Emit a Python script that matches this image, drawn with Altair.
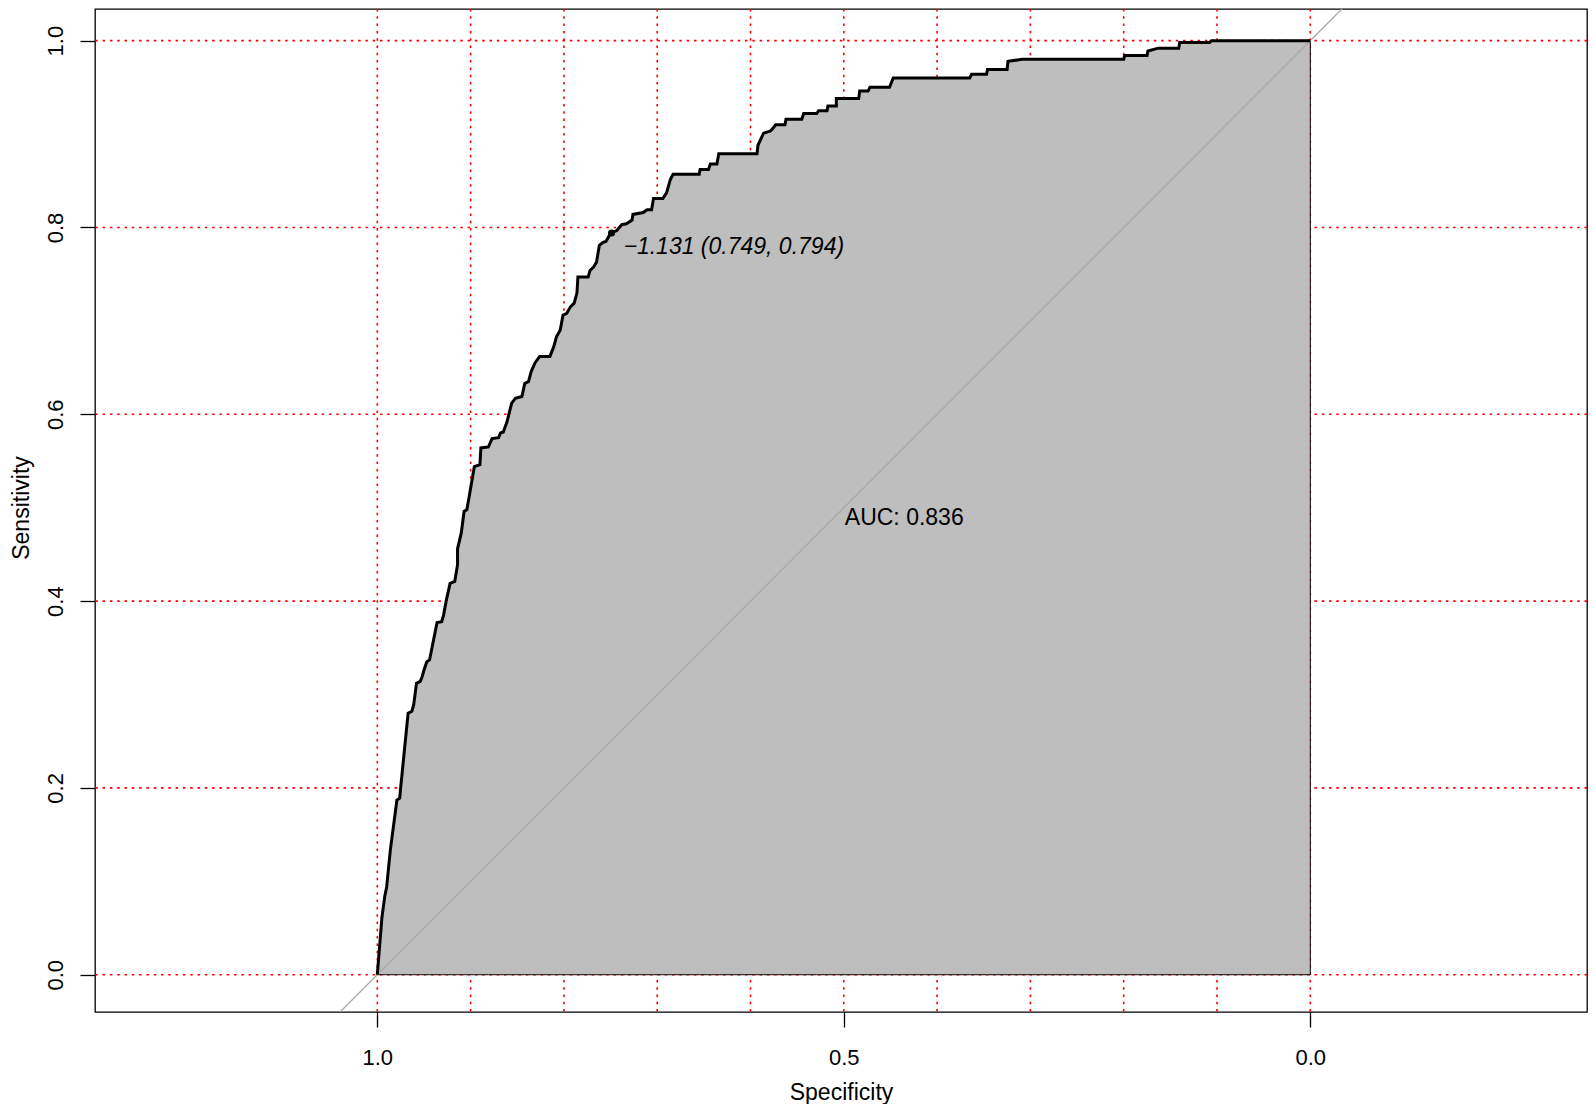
import altair as alt
import pandas as pd

# ROC curve vertices (specificity, sensitivity), from spec=1 to spec=0
spec = [1.000, 0.995, 0.992, 0.990, 0.986, 0.979, 0.976, 0.975, 0.967, 0.963,
        0.961, 0.958, 0.954, 0.952, 0.950, 0.947, 0.944, 0.936, 0.931, 0.929,
        0.926, 0.922, 0.917, 0.914, 0.914, 0.910, 0.907, 0.904, 0.901, 0.896,
        0.890, 0.889, 0.881, 0.877, 0.870, 0.868, 0.865, 0.861, 0.856, 0.852,
        0.845, 0.842, 0.838, 0.835, 0.831, 0.826, 0.815, 0.811, 0.808, 0.804,
        0.801, 0.797, 0.793, 0.789, 0.786, 0.785, 0.774, 0.772, 0.768, 0.765,
        0.762, 0.758, 0.755, 0.751, 0.749, 0.743, 0.738, 0.733, 0.727, 0.726,
        0.715, 0.711, 0.706, 0.704, 0.694, 0.690, 0.686, 0.683, 0.655, 0.654,
        0.645, 0.643, 0.636, 0.634, 0.593, 0.592, 0.586, 0.579, 0.577, 0.573,
        0.563, 0.562, 0.545, 0.543, 0.529, 0.527, 0.518, 0.517, 0.508, 0.508,
        0.484, 0.483, 0.474, 0.472, 0.451, 0.447, 0.365, 0.363, 0.347, 0.346,
        0.325, 0.324, 0.309, 0.200, 0.199, 0.175, 0.174, 0.163, 0.141, 0.140,
        0.108, 0.106, 0.000]
sens = [0.000, 0.062, 0.084, 0.094, 0.134, 0.187, 0.189, 0.200, 0.280, 0.282,
        0.289, 0.312, 0.314, 0.319, 0.326, 0.335, 0.337, 0.377, 0.378, 0.385,
        0.401, 0.419, 0.421, 0.439, 0.456, 0.473, 0.496, 0.498, 0.515, 0.544,
        0.546, 0.564, 0.565, 0.574, 0.575, 0.580, 0.581, 0.592, 0.612, 0.617,
        0.619, 0.633, 0.635, 0.646, 0.655, 0.662, 0.662, 0.672, 0.683, 0.690,
        0.706, 0.708, 0.715, 0.719, 0.730, 0.747, 0.747, 0.754, 0.758, 0.763,
        0.781, 0.784, 0.785, 0.792, 0.794, 0.797, 0.803, 0.804, 0.808, 0.814,
        0.816, 0.819, 0.819, 0.831, 0.831, 0.837, 0.851, 0.857, 0.857, 0.862,
        0.862, 0.868, 0.868, 0.879, 0.879, 0.888, 0.901, 0.903, 0.905, 0.910,
        0.910, 0.916, 0.916, 0.922, 0.922, 0.925, 0.925, 0.930, 0.930, 0.938,
        0.938, 0.946, 0.946, 0.950, 0.950, 0.960, 0.960, 0.964, 0.964, 0.969,
        0.969, 0.978, 0.980, 0.980, 0.984, 0.984, 0.989, 0.992, 0.992, 0.998,
        0.998, 1.000, 1.000]

grid_x = [0.0, 0.1, 0.2, 0.3, 0.4, 0.5, 0.6, 0.7, 0.8, 0.9, 1.0]
grid_y = [0.0, 0.2, 0.4, 0.6, 0.8, 1.0]
x_ticks = [1.0, 0.5, 0.0]
y_ticks = [0.0, 0.2, 0.4, 0.6, 0.8, 1.0]

diag_x = [1.05, -0.05]
diag_y = [-0.05, 1.05]

thres_val = [-1.131]
thres_spec = [0.749]
thres_sens = [0.794]

auc_val = [0.836]
auc_x = [0.5]
auc_y = [0.5]

FONT = "Liberation Sans"

curve = pd.DataFrame({"spec": spec, "sens": sens})
curve["i"] = range(len(curve))
curve["base"] = 0.0

x_scale = alt.Scale(domain=[-0.2966, 1.3026], reverse=True, nice=False, zero=False)
y_scale = alt.Scale(domain=[-0.0399, 1.0339], nice=False, zero=False)

x_axis = alt.Axis(values=x_ticks, format=".1f", title="Specificity",
                  labelBaseline="alphabetic", labelPadding=37, tickSize=15,
                  titleBaseline="alphabetic", titleY=87, titleX=746,
                  titleFontSize=23, titleFontWeight="normal", labelFontSize=22)
y_axis = alt.Axis(values=y_ticks, format=".1f", title="Sensitivity",
                  labelAngle=270, labelAlign="center", labelBaseline="alphabetic",
                  labelPadding=18, tickSize=15,
                  titleAngle=270, titleAlign="center", titleBaseline="alphabetic",
                  titleX=-67, titleY=498.5,
                  titleFontSize=23, titleFontWeight="normal", labelFontSize=22)


def X(f):
    return alt.X(f, scale=x_scale, axis=x_axis)


def Y(f):
    return alt.Y(f, scale=y_scale, axis=y_axis)


vgrid = alt.Chart(pd.DataFrame({"g": grid_x})).mark_rule(
    color="#FF0000", strokeDash=[2.5, 4.8], strokeWidth=1.6
).encode(x=X("g:Q"))

hgrid = alt.Chart(pd.DataFrame({"g": grid_y})).mark_rule(
    color="#FF0000", strokeDash=[2.5, 4.8], strokeWidth=1.6
).encode(y=Y("g:Q"))

# polygon under the curve; a negligible tie-break keeps vertical steps in path order
area = alt.Chart(curve).transform_calculate(
    sx="datum.spec - datum.i * 1e-9"
).mark_area(
    fill="#BEBEBE", stroke="black", strokeWidth=1, opacity=1
).encode(
    x=X("sx:Q"),
    y=Y("sens:Q"),
    y2="base:Q",
)

diag = alt.Chart(pd.DataFrame({"x": diag_x, "y": diag_y})).mark_line(
    color="#A9A9A9", strokeWidth=1.3, clip=True
).encode(x=X("x:Q"), y=Y("y:Q"))

roc = alt.Chart(curve).mark_line(
    color="black", strokeWidth=3, strokeJoin="miter", strokeCap="butt"
).encode(
    x=X("spec:Q"),
    y=Y("sens:Q"),
    order=alt.Order("i:Q"),
)

thr_df = pd.DataFrame({"spec": thres_spec, "sens": thres_sens, "val": thres_val})
thr_df["label"] = [
    f"{v:.3f}".replace("-", "\u2212") + f" ({s:.3f}, {t:.3f})"
    for v, s, t in zip(thres_val, thres_spec, thres_sens)
]

thr_pt = alt.Chart(thr_df).mark_circle(size=50, color="black", opacity=1).encode(
    x=X("spec:Q"), y=Y("sens:Q")
)

thr_txt = alt.Chart(thr_df).mark_text(
    align="left", baseline="alphabetic", dx=12, dy=21, fontSize=23,
    fontStyle="italic", font=FONT, color="black"
).encode(x=X("spec:Q"), y=Y("sens:Q"), text="label:N")

auc_df = pd.DataFrame({"x": auc_x, "y": auc_y})
auc_df["label"] = [f"AUC: {v:.3f}" for v in auc_val]

auc_txt = alt.Chart(auc_df).mark_text(
    align="left", baseline="alphabetic", dx=1, dy=17, fontSize=23,
    font=FONT, color="black"
).encode(x=X("x:Q"), y=Y("y:Q"), text="label:N")

chart = alt.layer(vgrid, hgrid, area, diag, roc, thr_pt, thr_txt, auc_txt).properties(
    width=1492,
    height=1003,
    autosize=alt.AutoSizeParams(type="none"),
    padding={"left": 87, "top": 1, "right": 1, "bottom": 92},
    background="white",
).configure_view(
    stroke="black", strokeWidth=1.3
).configure_axis(
    grid=False, domain=False, tickColor="black", tickWidth=1.3,
    labelColor="black", titleColor="black", labelFont=FONT, titleFont=FONT,
)

chart.save("out.html", embed_options={"renderer": "svg", "actions": False})
